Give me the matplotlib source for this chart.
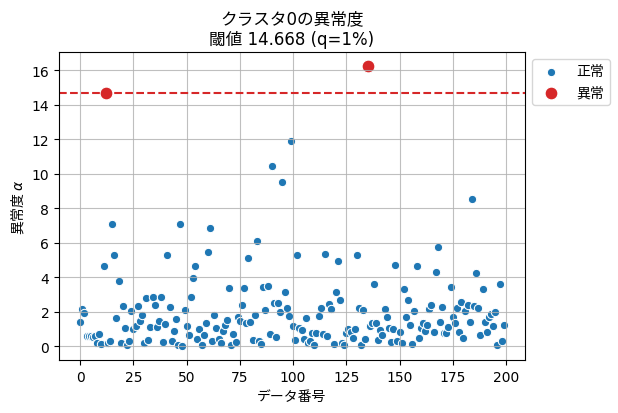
import numpy as np
import matplotlib
matplotlib.use("Agg")
import matplotlib.pyplot as plt

plt.rcParams['font.family'] = ['DejaVu Sans', 'Noto Sans CJK JP']
plt.rcParams['axes.unicode_minus'] = False

threshold = 14.668

scores_part1 = [1.4, 2.17, 1.9, 0.58, 0.57, 0.56, 0.55, 0.58, 0.16, 0.68,
                0.14, 4.64, 14.7, 0.16, 0.29, 7.1, 5.28, 1.65, 3.77, 0.19,
                2.33, 1.07, 0.04, 0.31, 2.04, 0.97, 1.17, 2.33, 1.46, 1.79,
                0.19, 2.76, 0.35, 1.13, 2.85, 2.37, 1.13, 1.46, 2.85, 0.23,
                1.26, 5.28, 2.29, 0.29, 0.87, 1.59, 0.04, 7.09]
scores_part2 = [0.0, 2.1, 1.17, 0.62, 2.87, 3.92, 4.64, 0.43, 0.97, 0.06,
                0.62, 1.36, 5.48, 6.85, 0.3, 1.79, 1.07, 0.43, 0.19, 0.87,
                1.2, 1.51, 3.38, 0.04, 0.68, 0.23, 1.71, 1.46, 2.37, 3.38,
                1.32, 5.09, 1.4, 0.35, 1.79, 6.1, 0.29, 0.1, 3.4, 2.1,
                3.5, 0.68, 10.42, 2.49, 0.54, 2.49, 1.98, 9.5, 3.15]
scores_part3 = [2.23, 1.75, 11.87, 1.17, 0.35, 5.28, 1.07, 0.91, 0.43, 1.65,
                0.19, 0.3, 0.74, 0.06, 0.78, 1.75, 2.23, 0.68, 5.34, 0.58,
                2.43, 2.17, 0.14, 3.15, 4.95, 2.68, 0.19, 0.06, 0.78, 1.01,
                0.8, 0.49, 1.01, 5.28, 2.23, 0.06, 2.08, 0.39, 16.24, 1.17,
                1.32, 3.57, 1.36, 0.35, 0.91, 0.62, 2.17, 1.71, 1.07]
scores_part4 = [0.25, 0.97, 4.72, 0.29, 0.82, 0.16, 3.3, 1.69, 2.66, 1.24,
                0.1, 2.04, 4.64, 0.49, 1.07, 1.36, 0.87, 1.2, 2.17, 2.37,
                0.82, 4.27, 5.73, 1.42, 2.29, 0.78, 0.78, 1.11, 3.44, 1.71,
                1.36, 2.23, 0.82, 2.56, 0.49, 2.04, 2.37, 1.4, 8.54, 2.33,
                4.21, 2.23, 0.62, 3.28, 1.4, 0.82, 1.71, 1.84, 1.17, 1.98,
                0.06, 3.57, 0.29, 1.2]

scores = np.array(scores_part1 + scores_part2 + scores_part3 + scores_part4)
idx = np.arange(len(scores))
anom = scores > threshold

fig = plt.figure(figsize=(6.18, 4.14), dpi=100)
ax = fig.add_axes([0.0955, 0.128, 0.754, 0.744])

ax.scatter(idx[~anom], scores[~anom], s=36, color='#1f77b4',
           edgecolor='white', linewidth=0.75, label='正常')
ax.scatter(idx[anom], scores[anom], s=85, color='#d62728',
           edgecolor='white', linewidth=0.75, label='異常')
ax.axhline(threshold, color='#d62728', linestyle='--', linewidth=1.5)

ax.grid(True, color='#b0b0b0', linewidth=0.8, alpha=0.8)
ax.set_xticks([0, 25, 50, 75, 100, 125, 150, 175, 200])
ax.set_yticks([0, 2, 4, 6, 8, 10, 12, 14, 16])
ax.set_xlabel('データ番号')
ax.set_ylabel(r'異常度 $\alpha$', family=['Noto Sans CJK JP', 'DejaVu Sans'])
ax.set_title('クラスタ0の異常度\n閾値 14.668 (q=1%)', fontsize=12)
ax.legend(loc='upper left', bbox_to_anchor=(1.0, 1.0))

fig.savefig('out.png', dpi=100)
